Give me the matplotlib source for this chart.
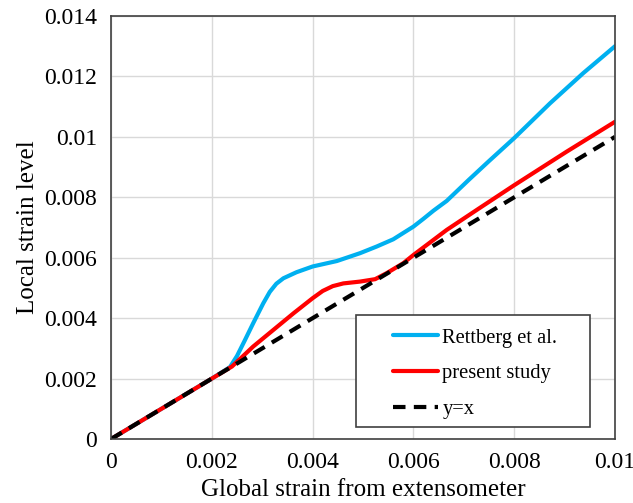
import matplotlib
matplotlib.use("Agg")
import matplotlib.pyplot as plt
from matplotlib.patches import Rectangle

plt.rcParams['font.family'] = ['Liberation Serif', 'DejaVu Serif']

# Data
ref_x = [0.0, 0.001, 0.002, 0.00236, 0.00250, 0.00265, 0.00282, 0.00302, 0.00315, 0.00328, 0.00342, 0.00368, 0.0040,
         0.00448, 0.00494, 0.00527, 0.0056, 0.0060, 0.0062, 0.0064, 0.00666, 0.0071, 0.0075, 0.0080, 0.00871, 0.00937, 0.0100]
ref_y = [0.0, 0.00100, 0.00200, 0.00238, 0.00275, 0.00325, 0.00383, 0.00449, 0.00487, 0.00514, 0.00532, 0.00552, 0.00571,
         0.00589, 0.00615, 0.00637, 0.00661, 0.00703, 0.00729, 0.00756, 0.00788, 0.00858, 0.00920, 0.00996, 0.01111, 0.01211, 0.01300]

pres_x = [0.0, 0.001, 0.002, 0.00240, 0.00282, 0.00322, 0.00362, 0.0040, 0.00420, 0.00440, 0.00461, 0.00494, 0.00524,
          0.00547, 0.0058, 0.0060, 0.00666, 0.0073, 0.0080, 0.00904, 0.0100]
pres_y = [0.0, 0.00100, 0.00200, 0.00240, 0.00306, 0.00361, 0.00416, 0.00466, 0.00490, 0.00506, 0.00515, 0.00521, 0.00529,
          0.00549, 0.00582, 0.00609, 0.00692, 0.00763, 0.00840, 0.00951, 0.01050]

yx_x = [0.0, 0.01]
yx_y = [0.0, 0.01]

x_ticks = [0, 0.002, 0.004, 0.006, 0.008, 0.01]
x_labels = ['0', '0.002', '0.004', '0.006', '0.008', '0.01']
y_ticks = [0, 0.002, 0.004, 0.006, 0.008, 0.01, 0.012, 0.014]
y_labels = ['0', '0.002', '0.004', '0.006', '0.008', '0.01', '0.012', '0.014']

fig = plt.figure(figsize=(6.33, 5.03), dpi=100)
ax = fig.add_axes([0.1754, 0.1272, 0.7962, 0.8410])

ax.plot(ref_x, ref_y, color='#00B0F0', lw=3.0, label='Rettberg et al.', solid_capstyle='round', solid_joinstyle='round')
ax.plot(pres_x, pres_y, color='#FF0000', lw=3.0, label='present study', solid_capstyle='round', solid_joinstyle='round')
ax.plot(yx_x, yx_y, color='black', lw=3.0, ls=(0, (3, 2)), label='y=x')

ax.set_xlim(0, 0.01)
ax.set_ylim(0, 0.014)
ax.set_xticks(x_ticks)
ax.set_xticklabels(x_labels)
ax.set_yticks(y_ticks)
ax.set_yticklabels(y_labels)
ax.tick_params(axis='both', length=0, labelsize=17, pad=10)
ax.tick_params(axis='x', pad=9)
ax.grid(True, color='#D9D9D9', lw=1.0)
ax.set_axisbelow(True)
for s in ax.spines.values():
    s.set_color('#404040')
    s.set_linewidth(1.2)

ax.set_xlabel('Global strain from extensometer', fontsize=18, labelpad=5)
ax.set_ylabel('Local strain level', fontsize=18, labelpad=4)

ax.add_patch(Rectangle((0.486, 0.028), 0.464, 0.265, transform=ax.transAxes,
                       facecolor='white', edgecolor='#404040', lw=1.2, zorder=4))
leg = ax.legend(loc='upper left', bbox_to_anchor=(0.5595, 0.262), fontsize=14.8, frameon=False,
                handlelength=2.2, labelspacing=0.8, borderpad=0, borderaxespad=0, handletextpad=0.2)
leg.set_zorder(5)

fig.savefig('out.png', dpi=100)
